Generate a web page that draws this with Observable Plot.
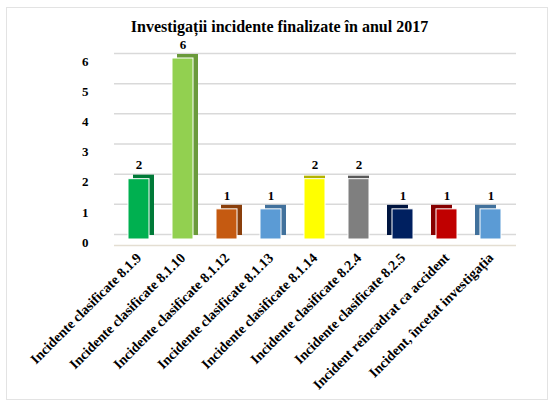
<!DOCTYPE html>
<html>
<head>
<meta charset="utf-8">
<script src="https://cdn.jsdelivr.net/npm/d3@7"></script>
<script src="https://cdn.jsdelivr.net/npm/@observablehq/plot@0.6"></script>
<style>
  body { margin: 0; background: #fff; }
  #frame { position: absolute; left: 6px; top: 7px; width: 542px; height: 393px; border: 1px solid #e3e3e3; box-sizing: border-box; pointer-events: none; }
  #chart { position: relative; width: 551px; }
  #title { height: 18px; padding-top: 18px; padding-left: 8px; line-height: 18px; text-align: center;
           font: bold 16px "Liberation Serif", "Times New Roman", serif; color: #000; }
</style>
</head>
<body>
<div id="frame"></div>
<div id="chart">
  <div id="title">Investigații incidente finalizate în anul 2017</div>
</div>
<script>
const categories = [
  "Incidente clasificate 8.1.9",
  "Incidente clasificate 8.1.10",
  "Incidente clasificate 8.1.12",
  "Incidente clasificate 8.1.13",
  "Incidente clasificate 8.1.14",
  "Incidente clasificate 8.2.4",
  "Incidente clasificate 8.2.5",
  "Incident reîncadrat ca accident",
  "Incident, încetat investigația"
];
const values = [2, 6, 1, 1, 2, 2, 1, 1, 1];
const colors = ["#00B050", "#92D050", "#C55A11", "#5B9BD5", "#FFFF00", "#7F7F7F", "#002060", "#C00000", "#5B9BD5"];
const sideColors = ["#007A38", "#6A9A3A", "#8A3F0C", "#41719C", "#B3B300", "#595959", "#001540", "#860000", "#41719C"];
const yTicks = [0, 1, 2, 3, 4, 5, 6];

const data = categories.map((c, i) => ({category: c, value: values[i], color: colors[i], side: sideColors[i], i}));
const leftBars = data.filter(d => d.i < 4);
const midBars = data.filter(d => d.i >= 4 && d.i <= 5);
const rightBars = data.filter(d => d.i > 5);

const serif = "'Liberation Serif', 'Times New Roman', serif";

const chart = Plot.plot({
  width: 551,
  height: 370,
  marginTop: 22,
  marginBottom: 167,
  marginLeft: 114,
  marginRight: 35,
  x: {domain: categories, paddingInner: 0.52, paddingOuter: 0.26, label: null},
  y: {domain: [0, 6], label: null},
  color: {type: "identity"},
  style: {fontFamily: serif, fontWeight: "bold", color: "#000", background: "transparent", overflow: "visible"},
  marks: [
    Plot.ruleY(yTicks, {dy: -5, stroke: "#d9d9d9", strokeWidth: 1.5}),
    Plot.ruleY([0], {dy: 6, stroke: "#e4ded2", strokeWidth: 1.5}),
    Plot.barY(leftBars, {x: "category", y: "value", fill: "side", dx: 5, dy: -4}),
    Plot.barY(midBars, {x: "category", y: "value", fill: "side", dy: -3}),
    Plot.barY(rightBars, {x: "category", y: "value", fill: "side", dx: -5, dy: -4}),
    Plot.barY(data, {x: "category", y: "value", fill: "color", stroke: "white", strokeWidth: 1}),
    Plot.text(data, {x: "category", y: "value", text: d => String(d.value), dy: -14, fontSize: 13, fill: "#000"}),
    Plot.axisY({ticks: yTicks, tickFormat: "d", tickSize: 0, tickPadding: 26, fontSize: 13, dy: 3, label: null, fontFamily: serif}),
    Plot.axisX({tickRotate: -45, tickSize: 0, tickPadding: 16, fontSize: 14, label: null, fontFamily: serif})
  ]
});
document.getElementById("chart").appendChild(chart);
</script>
</body>
</html>
